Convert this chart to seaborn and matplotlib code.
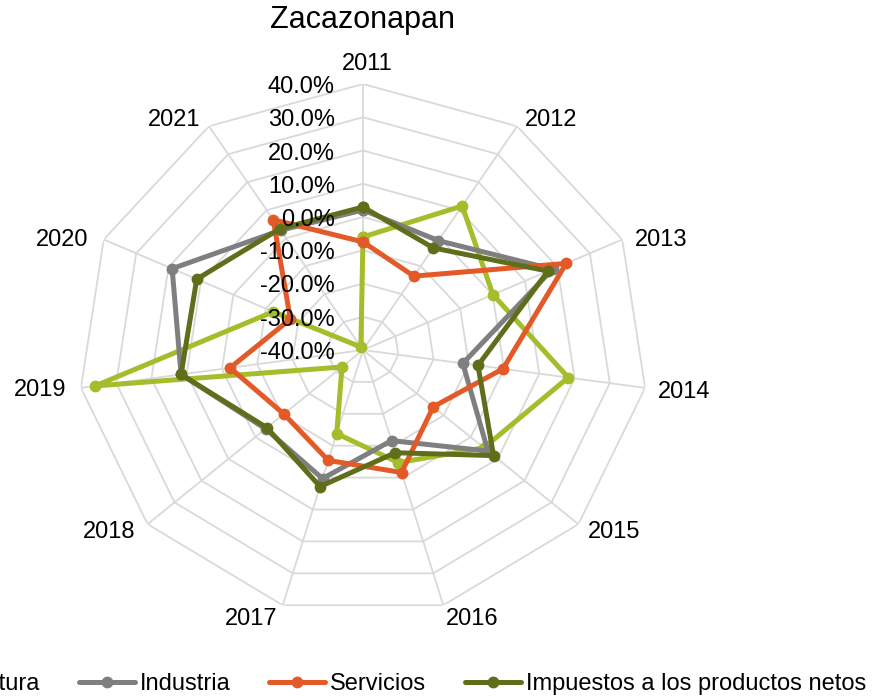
import numpy as np
import pandas as pd
import matplotlib
matplotlib.use("Agg")
import matplotlib.pyplot as plt
from matplotlib.lines import Line2D
import seaborn as sns

# ---- data (percent) ----
years = ["2011", "2012", "2013", "2014", "2015", "2016",
         "2017", "2018", "2019", "2020", "2021"]
agricultura = [-6.0, 11.5, 0.1, 18.2, 4.9, -4.7, -13.8, -32.2, 36.0, -12.3, -38.9]
industria = [2.1, -0.9, 18.5, -11.7, 6.4, -11.6, 0.3, -3.8, 11.6, 18.9, 2.8]
servicios = [-7.5, -13.6, 22.7, -0.3, -13.9, -1.6, -5.4, -10.6, -2.3, -17.6, 6.6]
impuestos = [3.0, -3.5, 17.1, -7.4, 8.5, -7.8, 2.8, -4.3, 11.6, 11.3, 3.3]
series_names = ["Agricultura", "Industria", "Servicios",
                "Impuestos a los productos netos"]
series_values = [agricultura, industria, servicios, impuestos]
colors = ["#A4BD2A", "#7F7F7F", "#E35A28", "#5F6E1B"]
levels = [-40, -30, -20, -10, 0, 10, 20, 30, 40]

# pixel offsets of category labels from the outer ring vertices (layout only)
label_offsets = [(4, -22), (34, -8), (39, -1), (39, 2), (36, 6), (29, 12),
                 (-32, 12), (-38, 6), (-41, 0), (-42, -1), (-35, -8)]

sns.set_theme(style="white")
plt.rcParams["font.family"] = ["Liberation Sans", "DejaVu Sans"]
plt.rcParams["text.color"] = "black"
plt.rcParams["xtick.color"] = "black"
plt.rcParams["ytick.color"] = "black"

n = len(years)
angles = np.linspace(0, 2 * np.pi, n, endpoint=False)
closed_angles = np.append(angles, 2 * np.pi)

rows = []
for name, vals in zip(series_names, series_values):
    for th, v in zip(closed_angles, list(vals) + [vals[0]]):
        rows.append({"series": name, "theta": th, "value": v})
df = pd.DataFrame(rows)

fig = plt.figure(figsize=(8.78, 7.0), dpi=100)
ax = fig.add_axes([78 / 878, 84 / 700, 570 / 878, 532 / 700], projection="polar")
ax.set_theta_offset(np.pi / 2)
ax.set_theta_direction(-1)

grid_col = "#D9D9D9"
# polygonal rings
for lv in levels[1:]:
    ax.plot(closed_angles, [lv] * (n + 1), color=grid_col, lw=1.3, zorder=1)

sns.lineplot(data=df, x="theta", y="value", hue="series", hue_order=series_names,
             palette=colors, marker="o", markersize=8.5, markeredgewidth=0,
             linewidth=3.6, sort=False, estimator=None, legend=False, ax=ax,
             zorder=3)

ax.set_xlim(0, 2 * np.pi)
ax.set_ylim(-40, 40)
ax.set_aspect("auto")
ax.spines["polar"].set_visible(False)
ax.set_xlabel("")
ax.set_ylabel("")
ax.set_xticks(angles)
ax.set_xticklabels([])
ax.xaxis.grid(True, color=grid_col, lw=1.3)
ax.yaxis.grid(False)
ax.set_yticks([])
ax.set_facecolor("white")

for th, lab, (ox, oy) in zip(angles, years, label_offsets):
    ax.annotate(lab, xy=(th, 40), xytext=(ox, -oy - 2),
                textcoords="offset pixels", ha="center", va="center",
                fontsize=17, color="black", annotation_clip=False)

for lv in levels:
    ax.annotate(f"{lv:.1f}%", xy=(0, lv), xytext=(-28, -3),
                textcoords="offset pixels", ha="right", va="center",
                fontsize=17, color="black", zorder=10, annotation_clip=False)

fig.text(363 / 878, 1 - 20 / 700, "Zacazonapan", ha="center", va="center",
         fontsize=22, color="black")

handles = [Line2D([0], [0], color=c, lw=3.6, marker="o", markersize=8.5,
                  markeredgewidth=0) for c in colors]
fig.legend(handles, series_names, loc="center right",
           bbox_to_anchor=(866 / 878, 1 - 684 / 700), ncol=4, frameon=False,
           fontsize=17, handlelength=2.37, handletextpad=0.2,
           columnspacing=1.65, borderpad=0, borderaxespad=0,
           labelcolor="black")

fig.savefig("out.png", dpi=100)
